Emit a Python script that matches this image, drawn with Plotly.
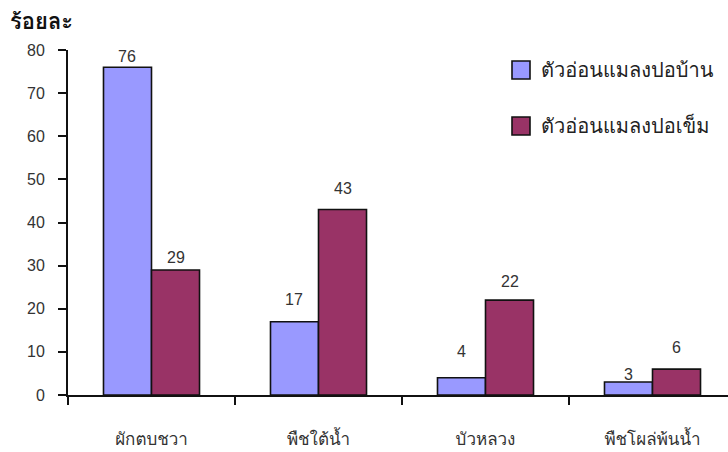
import plotly.graph_objects as go

# Data
categories = ["ผักตบชวา", "พืชใต้น้ำ", "บัวหลวง", "พืชโผล่พ้นน้ำ"]
series_names = ["ตัวอ่อนแมลงปอบ้าน", "ตัวอ่อนแมลงปอเข็ม"]
house_dragonfly = [76, 17, 4, 3]
damselfly = [29, 43, 22, 6]
y_ticks = [0, 10, 20, 30, 40, 50, 60, 70, 80]

# Vertical distance (px) of each value label's centre above its bar top
label_lift = [[11, 22, 26, 8], [12, 21, 19, 22]]

colors = ["#9999FF", "#993366"]
num_font = dict(family="Liberation Sans, Arial, sans-serif", size=16, color="#333333")
thai_font = "Tahoma, Loma, Garuda, Noto Sans Thai, sans-serif"

W, H = 728, 452
L, R, T, B = 68, 0, 50, 57
pw, ph = W - L - R, H - T - B
cat_px = 167.0
bargap = 0.425
bar_px = cat_px * (1 - bargap) / 2

fig = go.Figure()
series_vals = [house_dragonfly, damselfly]
for i, (name, vals, col) in enumerate(zip(series_names, series_vals, colors)):
    fig.add_trace(go.Bar(
        x=categories, y=vals, name=name,
        marker=dict(color=col, line=dict(color="#111111", width=1.6)),
        showlegend=False,
    ))
    side = -0.5 if i == 0 else 0.5
    for cat, v, lift in zip(categories, vals, label_lift[i]):
        fig.add_annotation(x=cat, y=v, xref="x", yref="y", text=str(v),
                           showarrow=False, xanchor="center", yanchor="middle",
                           xshift=side * bar_px, yshift=lift, font=num_font)

# Hand-built legend boxes on the right
def px_x(px):
    return (px - L) / pw

def px_y(py):
    return (H - B - py) / ph

legend_rows = [70, 126]
for name, col, cy in zip(series_names, colors, legend_rows):
    fig.add_shape(type="rect", xref="paper", yref="paper",
                  x0=px_x(512), x1=px_x(530), y0=px_y(cy + 9), y1=px_y(cy - 9),
                  fillcolor=col, line=dict(color="#111111", width=1.6))
    fig.add_annotation(xref="paper", yref="paper", x=px_x(539), y=px_y(cy),
                       xanchor="left", yanchor="middle", text=name, showarrow=False,
                       font=dict(family=thai_font, size=20, color="#222222"))

# Axis title on top-left
fig.add_annotation(xref="paper", yref="paper", x=px_x(8), y=px_y(22),
                   xanchor="left", yanchor="middle", text="<b>ร้อยละ</b>", showarrow=False,
                   font=dict(family=thai_font, size=22, color="#111111"))

fig.update_layout(
    width=W, height=H,
    margin=dict(l=L, r=R, t=T, b=B),
    paper_bgcolor="white", plot_bgcolor="white",
    barmode="group", bargap=bargap, bargroupgap=0,
)
fig.update_xaxes(
    type="category", range=[-0.5, -0.5 + pw / cat_px],
    showline=True, linecolor="#111111", linewidth=2,
    ticks="outside", ticklen=8, tickwidth=2, tickcolor="#111111",
    tickson="boundaries", ticklabelstandoff=28,
    tickfont=dict(family=thai_font, size=17, color="#333333"),
    showgrid=False, zeroline=False,
)
fig.update_yaxes(
    range=[0, 80], tickvals=y_ticks,
    showline=True, linecolor="#111111", linewidth=2,
    ticks="outside", ticklen=8, tickwidth=2, tickcolor="#111111",
    ticklabelstandoff=10,
    tickfont=num_font, showgrid=False, zeroline=False,
)

fig.write_html("out.html")
